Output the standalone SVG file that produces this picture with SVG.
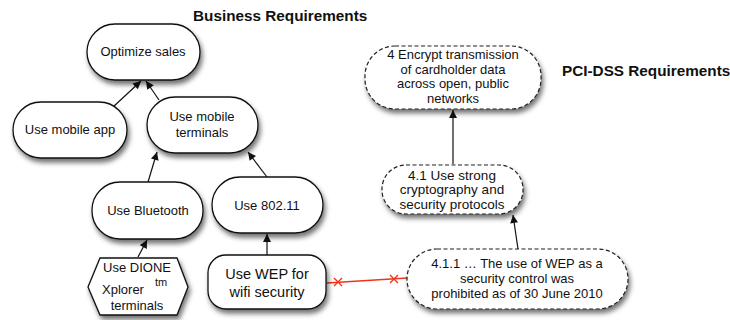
<svg xmlns="http://www.w3.org/2000/svg" width="730" height="320" viewBox="0 0 730 320">
<style>
.n{fill:#fff;stroke:#111;stroke-width:1.3;filter:url(#sh)}
.d{fill:#fff;stroke:#222;stroke-width:1.2;stroke-dasharray:4 2.5;filter:url(#sh)}
.t{font-family:"Liberation Sans",Arial,sans-serif;font-size:13px;fill:#111;text-anchor:middle}
.h{font-family:"Liberation Sans",Arial,sans-serif;font-size:15.3px;font-weight:bold;fill:#111}
.c{stroke:#111;stroke-width:1.2;fill:none;marker-end:url(#ah)}
.r{stroke:#f0331a;stroke-width:1.3;fill:none}
</style>
<defs>
<filter id="sh" x="-20%" y="-20%" width="150%" height="160%">
<feDropShadow dx="2" dy="4" stdDeviation="2.5" flood-color="#000" flood-opacity="0.55"/>
</filter>
<marker id="ah" viewBox="0 0 10 10" refX="10" refY="5" markerWidth="9" markerHeight="8" markerUnits="userSpaceOnUse" orient="auto">
<path d="M0,0 L10,5 L0,10 z" fill="#111"/>
</marker>
</defs>
<text class="h" x="193" y="21">Business Requirements</text>
<text class="h" x="562" y="76">PCI-DSS Requirements</text>
<g id="connectors">
<line class="c" x1="113" y1="107" x2="141" y2="81"/>
<line class="c" x1="159" y1="100" x2="146" y2="81"/>
<line class="c" x1="148" y1="182" x2="157" y2="152"/>
<line class="c" x1="267" y1="177" x2="248" y2="152"/>
<line class="c" x1="138" y1="257" x2="147" y2="240"/>
<line class="c" x1="267" y1="255" x2="267" y2="234"/>
<line class="c" x1="453" y1="164" x2="453" y2="110"/>
<line class="c" x1="518" y1="249" x2="513" y2="215"/>
<g id="conflict">
<line class="r" x1="327" y1="283" x2="407" y2="278"/>
<path class="r" d="M334,278 l8,8 M334,286 l8,-8 M390,275 l8,8 M390,283 l8,-8"/>
</g>
</g>
<g id="optimize-sales">
<rect class="n" x="87" y="24" width="113" height="56" rx="28"/>
<text class="t" x="143" y="56">Optimize sales</text>
</g>
<g id="use-mobile-app">
<rect class="n" x="13" y="102" width="114" height="56" rx="28"/>
<text class="t" x="70" y="134">Use mobile app</text>
</g>
<g id="use-mobile-terminals">
<rect class="n" x="147" y="97" width="111" height="56" rx="28"/>
<text class="t" x="202" y="121">Use mobile</text>
<text class="t" x="202" y="137">terminals</text>
</g>
<g id="use-bluetooth">
<rect class="n" x="92" y="182" width="111" height="57" rx="28"/>
<text class="t" x="148" y="215">Use Bluetooth</text>
</g>
<g id="use-80211">
<rect class="n" x="212" y="177" width="111" height="56" rx="28"/>
<text class="t" x="267" y="210">Use 802.11</text>
</g>
<g id="use-dione">
<polygon class="n" points="88,287 100,258 177,258 188,287 177,315 100,315"/>
<text class="t" x="137" y="272">Use DIONE</text>
<text class="t" x="123" y="294">Xplorer</text>
<text class="t" x="161" y="286" style="font-size:11px">tm</text>
<text class="t" x="137" y="310">terminals</text>
</g>
<g id="use-wep">
<rect class="n" x="208" y="255" width="118" height="54" rx="18"/>
<text class="t" x="267" y="279" style="font-size:14.5px">Use WEP for</text>
<text class="t" x="267" y="297" style="font-size:14.5px">wifi security</text>
</g>
<g id="req-4">
<rect class="d" x="365" y="46" width="176" height="63" rx="30"/>
<text class="t" x="453" y="59">4 Encrypt transmission</text>
<text class="t" x="453" y="74">of cardholder data</text>
<text class="t" x="453" y="88">across open, public</text>
<text class="t" x="453" y="103">networks</text>
</g>
<g id="req-4-1">
<rect class="d" x="382" y="165" width="141" height="49" rx="24"/>
<text class="t" x="452" y="179.5" style="font-size:13.5px">4.1  Use strong</text>
<text class="t" x="452" y="194" style="font-size:13.5px">cryptography and</text>
<text class="t" x="452" y="208.5" style="font-size:13.5px">security protocols</text>
</g>
<g id="req-4-1-1">
<rect class="d" x="407" y="249" width="221" height="60" rx="30"/>
<text class="t" x="517" y="268">4.1.1 … The use of WEP as a</text>
<text class="t" x="517" y="283">security control was</text>
<text class="t" x="517" y="298">prohibited as of 30 June 2010</text>
</g>
</svg>
